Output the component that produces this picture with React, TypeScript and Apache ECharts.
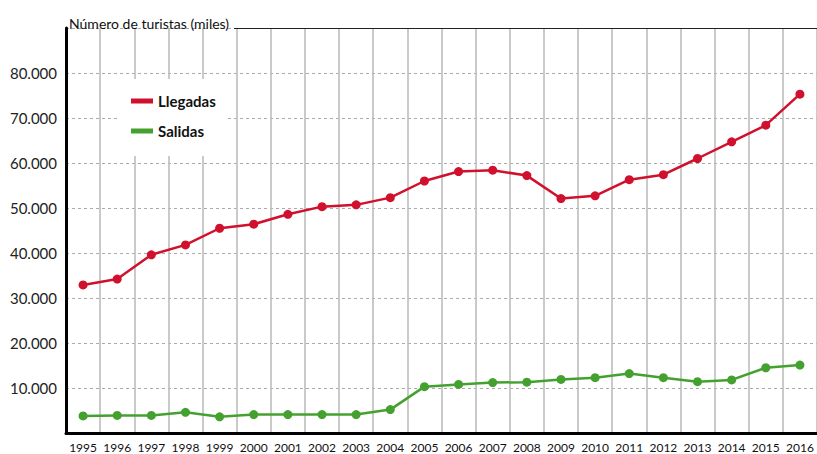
import React, { useEffect, useRef } from "react";
import * as echarts from "echarts";

const years = ["1995","1996","1997","1998","1999","2000","2001","2002","2003","2004","2005","2006","2007","2008","2009","2010","2011","2012","2013","2014","2015","2016"];
const llegadas = [32900, 34200, 39600, 41800, 45500, 46400, 48600, 50300, 50700, 52300, 56000, 58100, 58400, 57200, 52100, 52700, 56300, 57400, 61000, 64700, 68400, 75300];
const salidas = [3800, 3900, 3900, 4600, 3600, 4100, 4100, 4100, 4100, 5200, 10300, 10800, 11200, 11300, 11900, 12300, 13200, 12300, 11400, 11800, 14500, 15100];
const yTicks = [0, 10000, 20000, 30000, 40000, 50000, 60000, 70000, 80000, 90000];

const RED = "#d0102c";
const GREEN = "#45a12f";
const FONT = "Lato, 'Noto Sans', sans-serif";

export default function App() {
  const ref = useRef<HTMLDivElement>(null);
  useEffect(() => {
    if (!ref.current) return;
    document.body.style.margin = "0";
    document.body.style.overflow = "hidden";
    const chart = echarts.init(ref.current, null, { renderer: "svg" });
    chart.setOption({
      animation: false,
      backgroundColor: "#ffffff",
      title: {
        text: "Número de turistas (miles)",
        left: 64,
        top: 11,
        textStyle: { fontFamily: FONT, fontSize: 14, fontWeight: "normal", color: "#111" },
      },
      legend: {
        orient: "vertical",
        left: 126,
        top: 87,
        itemWidth: 22,
        itemHeight: 5,
        itemGap: 12,
        icon: "rect",
        data: ["Llegadas", "Salidas"],
        textStyle: { fontFamily: FONT, fontSize: 15, fontWeight: "bold", color: "#111", lineHeight: 18 },
      },
      graphic: [
        { type: "rect", z: 1, shape: { x: 117, y: 79, width: 111, height: 77 }, style: { fill: "#ffffff" } },
        { type: "line", z: 3, shape: { x1: 234, y1: 28.5, x2: 817, y2: 28.5 }, style: { stroke: "#222", lineWidth: 1.2 } },
      ],
      grid: { left: 66, right: 0, top: 28, bottom: 21, containLabel: false },
      xAxis: {
        type: "category",
        data: years,
        boundaryGap: true,
        axisLine: { show: true, lineStyle: { color: "#000", width: 3 } },
        axisTick: { show: false },
        axisLabel: { fontFamily: FONT, fontSize: 12, color: "#111", margin: 8, interval: 0 },
        splitLine: { show: true, lineStyle: { color: "#bdbdbd", width: 1.6 } },
      },
      yAxis: {
        type: "value",
        min: yTicks[0],
        max: yTicks[yTicks.length - 1],
        interval: 10000,
        axisLine: { show: true, lineStyle: { color: "#000", width: 3 } },
        axisTick: { show: false },
        axisLabel: {
          fontFamily: FONT,
          fontSize: 15,
          color: "#222",
          margin: 9,
          showMinLabel: false,
          showMaxLabel: false,
          formatter: (v: number) => (v === 0 || v === 90000 ? "" : v.toLocaleString("de-DE")),
        },
        splitLine: { show: true, lineStyle: { color: "#aaaaaa", width: 1, type: [3, 3] } },
      },
      series: [
        {
          name: "Llegadas",
          type: "line",
          data: llegadas,
          symbol: "circle",
          symbolSize: 9,
          itemStyle: { color: RED },
          lineStyle: { color: RED, width: 2.5 },
          z: 5,
        },
        {
          name: "Salidas",
          type: "line",
          data: salidas,
          symbol: "circle",
          symbolSize: 9,
          itemStyle: { color: GREEN },
          lineStyle: { color: GREEN, width: 2.5 },
          z: 5,
        },
      ],
    });
    return () => chart.dispose();
  }, []);
  return <div ref={ref} style={{ width: 817, height: 454 }} />;
}
